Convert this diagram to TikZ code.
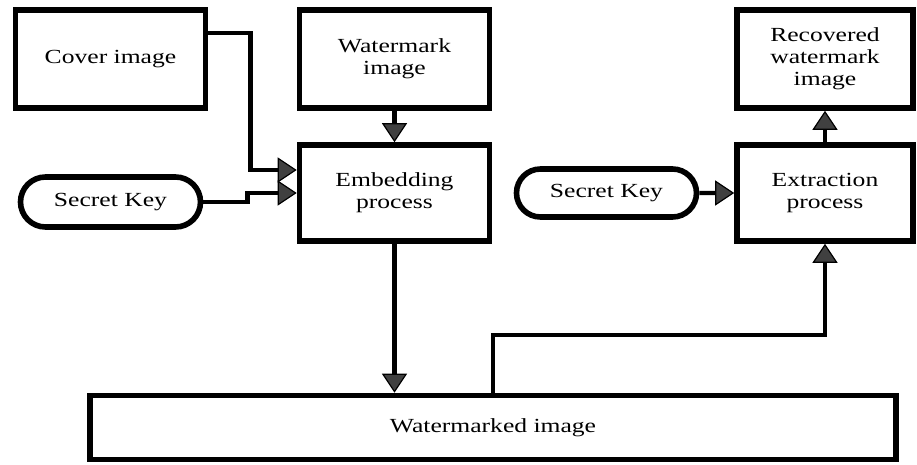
\documentclass[tikz,border=0pt]{standalone}
\usepackage{fontspec}
\setmainfont{Liberation Serif}[FakeStretch=1.28]
\usetikzlibrary{positioning, shapes.misc, arrows.meta}

\tikzset{
  block/.style={draw, line width=2.8pt, minimum width=95pt, minimum height=49pt,
    align=center, inner sep=2pt, font=\fontsize{10}{11}\selectfont},
  keybox/.style={draw, rounded rectangle, line width=2.8pt, minimum width=94pt,
    minimum height=25pt, inner sep=2pt, font=\fontsize{10}{11}\selectfont},
  conn/.style={line width=2.2pt,
    -{Triangle[length=9.5pt, width=12.5pt, line width=0.6pt, fill=darkgray]}}
}

\begin{document}
\begin{tikzpicture}[node distance=3cm, on grid]
\useasboundingbox (0,0) rectangle (458.5pt,-232.5pt);

% Blocks
	\node (cover)	[block] at (55.25pt,-29.5pt)		{Cover image};
	\node (wmark)	[block, right=142pt of cover]		{Watermark\\image};
	\node (embed)	[block, below=67pt of wmark, minimum height=48pt]	{Embedding\\process};
	\node (key_emb)	[keybox, below=71.5pt of cover]		{Secret Key};

	\node (recov)	[block, right=215.25pt of wmark, minimum width=88pt]	{Recovered\\watermark\\image};
	\node (extract)	[block, below=67pt of recov, minimum width=88pt, minimum height=48pt]	{Extraction\\process};
	\node (key_ext)	[keybox, left=109.25pt of extract, minimum height=24pt]	{Secret Key};

	\node (marked)	[block, below right=117.25pt and 49.25pt of embed,
		minimum width=403pt, minimum height=32pt]	{Watermarked image};

% Connectors
	\draw[conn] ([yshift=13pt]cover.east) -- ++(21pt,0) |- ([yshift=11.5pt]embed.west);
	\draw[conn] (key_emb.east) -- ++(22pt,0) |- (embed.west);
	\draw[conn] (wmark) -- (embed);
	\draw[conn] (embed.south) -- (embed.south |- marked.north);
	\draw[conn] (marked.north) -- ++(0,29pt) -| (extract.south);
	\draw[conn] (key_ext) -- (extract);
	\draw[conn] (extract) -- (recov);

\end{tikzpicture}
\end{document}
